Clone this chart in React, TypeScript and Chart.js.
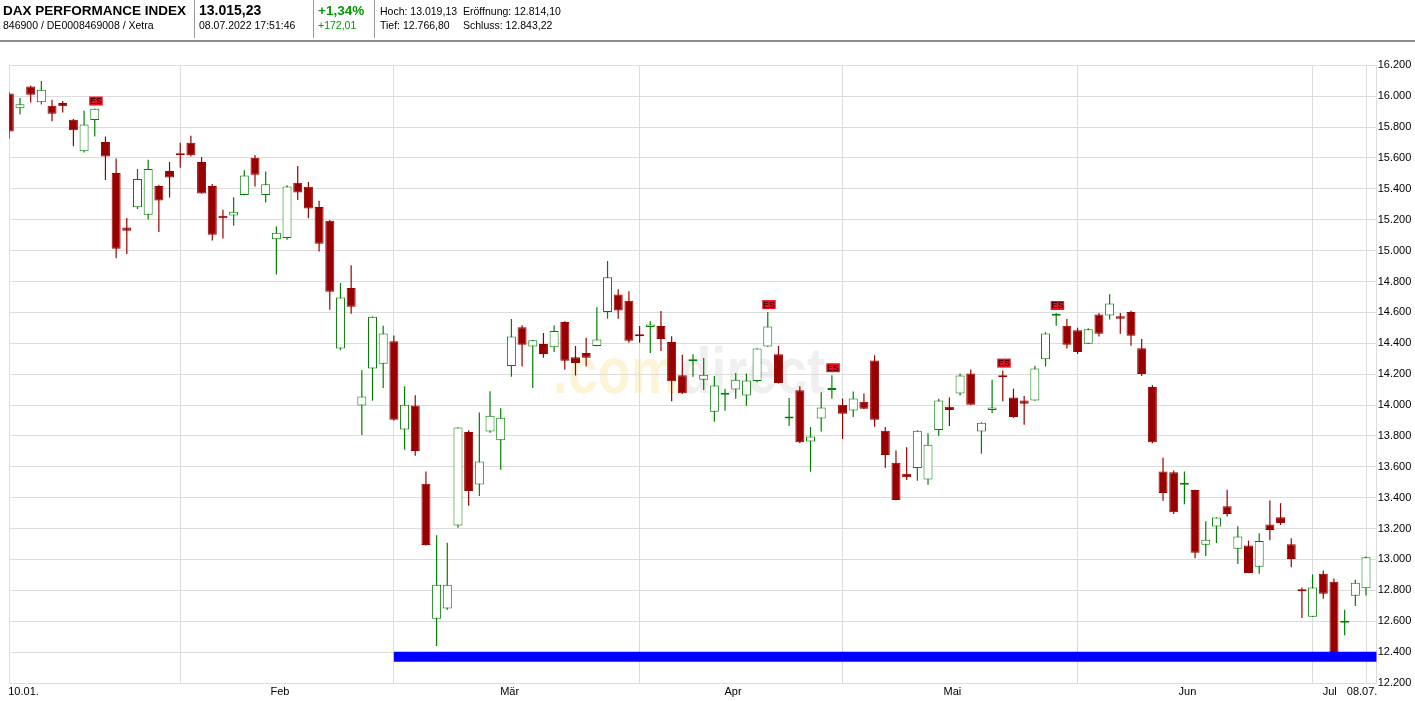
import React, { useEffect, useRef } from "react";
import { Chart, registerables } from "chart.js";

Chart.register(...registerables);

// ---------- data ----------
const dates: string[] = [
  "10.01.", "11.01.", "12.01.", "13.01.", "14.01.", "17.01.", "18.01.", "19.01.", "20.01.", "21.01.",
  "24.01.", "25.01.", "26.01.", "27.01.", "28.01.", "31.01.",
  "01.02.", "02.02.", "03.02.", "04.02.", "07.02.", "08.02.", "09.02.", "10.02.", "11.02.",
  "14.02.", "15.02.", "16.02.", "17.02.", "18.02.", "21.02.", "22.02.", "23.02.", "24.02.", "25.02.", "28.02.",
  "01.03.", "02.03.", "03.03.", "04.03.", "07.03.", "08.03.", "09.03.", "10.03.", "11.03.",
  "14.03.", "15.03.", "16.03.", "17.03.", "18.03.", "21.03.", "22.03.", "23.03.", "24.03.", "25.03.",
  "28.03.", "29.03.", "30.03.", "31.03.",
  "01.04.", "04.04.", "05.04.", "06.04.", "07.04.", "08.04.", "11.04.", "12.04.", "13.04.", "14.04.",
  "19.04.", "20.04.", "21.04.", "22.04.", "25.04.", "26.04.", "27.04.", "28.04.", "29.04.",
  "02.05.", "03.05.", "04.05.", "05.05.", "06.05.", "09.05.", "10.05.", "11.05.", "12.05.", "13.05.",
  "16.05.", "17.05.", "18.05.", "19.05.", "20.05.", "23.05.", "24.05.", "25.05.", "26.05.", "27.05.",
  "30.05.", "31.05.",
  "01.06.", "02.06.", "03.06.", "06.06.", "07.06.", "08.06.", "09.06.", "10.06.",
  "13.06.", "14.06.", "15.06.", "16.06.", "17.06.", "20.06.", "21.06.", "22.06.", "23.06.", "24.06.",
  "27.06.", "28.06.", "29.06.", "30.06.",
  "01.07.", "04.07.", "05.07.", "06.07.", "07.07.", "08.07.",
];

const openV: number[] = [
  16017, 15922, 16062, 15961, 15938, 15956, 15847, 15643, 15845, 15704,
  15503, 15150, 15280, 15232, 15418, 15516,
  15627, 15699, 15574, 15418, 15225, 15227, 15360, 15601, 15360,
  15073, 15081, 15439, 15413, 15283, 15193, 14366, 14758, 13997, 14236, 14268,
  14413, 13841, 13997, 13491, 12616, 12682, 13220, 13825, 13486,
  13828, 13772, 14252, 14503, 14379, 14395, 14374, 14538, 14310, 14337,
  14382, 14602, 14716, 14676,
  14448, 14506, 14511, 14408, 14193, 14283, 14164, 13957, 14066, 14101,
  14061, 14156, 14379, 14329, 13912, 14095, 13764, 13912, 14098,
  14002, 13965, 14021, 14289, 13833, 13626, 13555, 13592, 13517, 13838,
  13989, 14074, 14204, 13828, 13968, 14185, 14048, 14029, 14029, 14297,
  14578, 14514,
  14485, 14397, 14586, 14580, 14575, 14602, 14368, 14116,
  13570, 13565, 13483, 13449, 13096, 13213, 13345, 13069, 13091, 12953,
  13226, 13274, 13099, 12799,
  12629, 12908, 12855, 12590, 12765, 12814,
];

const highV: number[] = [
  16025, 15988, 16067, 16099, 15977, 15969, 15853, 15906, 15920, 15739,
  15596, 15211, 15529, 15588, 15426, 15574,
  15699, 15744, 15606, 15431, 15264, 15346, 15521, 15619, 15513,
  15156, 15423, 15548, 15445, 15323, 15198, 14790, 14906, 14225, 14575, 14514,
  14450, 14122, 14063, 13570, 13157, 13109, 13856, 13836, 13952,
  14090, 13979, 14557, 14517, 14421, 14466, 14517, 14543, 14382, 14435,
  14633, 14933, 14750, 14737,
  14511, 14543, 14609, 14445, 14326, 14329, 14305, 14188, 14106, 14207,
  14204, 14368, 14602, 14382, 14045, 14122, 13857, 14082, 14193,
  14042, 14087, 14074, 14323, 13857, 13706, 13727, 13836, 13817, 14040,
  14048, 14204, 14230, 13888, 14164, 14223, 14106, 14058, 14254, 14472,
  14596, 14557,
  14501, 14498, 14596, 14718, 14596, 14610, 14427, 14130,
  13658, 13576, 13570, 13452, 13247, 13273, 13451, 13215, 13122, 13170,
  13382, 13364, 13138, 12818,
  12902, 12929, 12876, 12674, 12868, 13019,
];

const lowV: number[] = [
  15726, 15882, 15959, 15946, 15837, 15895, 15675, 15635, 15739, 15458,
  14951, 14978, 15270, 15201, 15121, 15344,
  15537, 15609, 15370, 15065, 15079, 15161, 15358, 15415, 15312,
  14845, 15071, 15328, 15209, 14994, 14617, 14355, 14591, 13806, 14027, 14111,
  13900, 13711, 13671, 13090, 12439, 12674, 13205, 13348, 13411,
  13820, 13581, 14183, 14249, 14111, 14307, 14344, 14228, 14191, 14249,
  14380, 14559, 14559, 14403,
  14403, 14337, 14350, 14024, 14071, 14183, 14098, 13891, 13963, 14040,
  13995, 14148, 14378, 14140, 13865, 13753, 13568, 13828, 14040,
  13780, 13923, 13974, 13859, 13594, 13383, 13515, 13509, 13483, 13801,
  13865, 14061, 14000, 13684, 13949, 14024, 13918, 13873, 14027, 14249,
  14514, 14366,
  14331, 14395, 14443, 14554, 14461, 14384, 14188, 13753,
  13380, 13295, 13358, 13008, 13022, 13107, 13279, 12971, 12911, 12908,
  13125, 13223, 12950, 12621,
  12627, 12746, 12390, 12510, 12698, 12767,
];

const closeV: number[] = [
  15771, 15948, 16009, 16041, 15887, 15935, 15779, 15816, 15919, 15609,
  15012, 15129, 15463, 15529, 15325, 15474,
  15617, 15617, 15370, 15103, 15209, 15251, 15487, 15492, 15429,
  15116, 15415, 15376, 15272, 15044, 14734, 14697, 14636, 14056, 14572, 14464,
  13904, 14002, 13703, 13093, 12836, 12836, 13854, 13443, 13634,
  13931, 13918, 14443, 14390, 14419, 14331, 14480, 14286, 14273, 14307,
  14424, 14827, 14612, 14416,
  14445, 14522, 14427, 14154, 14077, 14289, 14196, 14127, 14079, 14164,
  14159, 14366, 14509, 14143, 13926, 13759, 13796, 13984, 14103,
  13944, 14042, 13976, 13904, 13676, 13385, 13533, 13833, 13743, 14029,
  13968, 14191, 14002, 13886, 13984, 14180, 13923, 14008, 14236, 14464,
  14583, 14390,
  14344, 14490, 14461, 14657, 14559, 14448, 14201, 13759,
  13430, 13305, 13488, 13043, 13128, 13271, 13295, 13149, 12913, 13120,
  13191, 13236, 13003, 12794,
  12818, 12778, 12401, 12595, 12849, 13015,
];

const esDates: string[] = ["20.01.", "21.04.", "29.04.", "23.05.", "30.05."];
const monthLabels: string[] = ["Jan", "Feb", "Mär", "Apr", "Mai", "Jun", "Jul"];
const yMin = 12200;
const yMax = 16200;
const yStep = 200;
const supportLevel = 12370;
const supportFrom = "01.03.";

const header = {
  name: "DAX PERFORMANCE INDEX",
  ids: "846900 / DE0008469008 / Xetra",
  price: "13.015,23",
  time: "08.07.2022 17:51:46",
  pct: "+1,34%",
  abs: "+172,01",
  high: "Hoch: 13.019,13",
  open: "Eröffnung: 12.814,10",
  low: "Tief: 12.766,80",
  close: "Schluss: 12.843,22",
};

// ---------- styles ----------
const FONT = '"Liberation Sans", Arial, sans-serif';
const UP = "#008000";
const DOWN = "#990000";
const GRID = "#dcdcdc";

const fmtDE = (v: number) => {
  const s = String(Math.round(v));
  return s.replace(/\B(?=(\d{3})+(?!\d))/g, ".");
};

export default function App() {
  const ref = useRef<HTMLCanvasElement | null>(null);

  useEffect(() => {
    const canvas = ref.current;
    if (!canvas) return;
    const n = dates.length;
    const up = dates.map((_, i) => closeV[i] >= openV[i]);

    // gridline positions: month starts + last day
    const gridPos: number[] = [];
    dates.forEach((d, i) => {
      if (i === 0 || d.slice(3, 5) !== dates[i - 1].slice(3, 5)) gridPos.push(i);
    });
    gridPos.push(n - 1);
    const xTicks: any[] = gridPos.map((v) => ({ value: v, grid: true, txt: "" }));
    xTicks.push({ value: -0.1, grid: false, txt: dates[0] });
    for (let k = 1; k < gridPos.length - 1; k++) {
      const m = parseInt(dates[gridPos[k]].slice(3, 5), 10) - 1;
      xTicks.push({ value: (gridPos[k] + gridPos[k + 1]) / 2 - 1.55, grid: false, txt: monthLabels[m] });
    }
    xTicks.push({ value: n - 2.8, grid: false, txt: dates[n - 1] });

    const watermark = {
      id: "watermark",
      beforeDraw(chart: any) {
        const ctx = chart.ctx;
        ctx.save();
        ctx.font = `bold 64px ${FONT}`;
        ctx.textBaseline = "alphabetic";
        ctx.textAlign = "left";
        ctx.translate(553, 393);
        ctx.scale(0.84, 1);
        ctx.fillStyle = "#fdf4d6";
        ctx.fillText(".com", 0, 0);
        const w = ctx.measureText(".com").width;
        ctx.fillStyle = "#efefef";
        ctx.fillText("direct", w, 0);
        ctx.restore();
      },
    };

    const esMarkers = {
      id: "esMarkers",
      afterDatasetsDraw(chart: any) {
        const ctx = chart.ctx;
        const xs = chart.scales.x;
        const ys = chart.scales.y;
        ctx.save();
        esDates.forEach((d) => {
          const i = dates.indexOf(d);
          if (i < 0) return;
          const cx = xs.getPixelForValue(i) + 1.2;
          const top = ys.getPixelForValue(highV[i]) - 12;
          ctx.fillStyle = "#ee1122";
          ctx.fillRect(cx - 6.75, top, 13.5, 9);
          ctx.fillStyle = "#000";
          ctx.font = `9px ${FONT}`;
          ctx.textAlign = "center";
          ctx.textBaseline = "middle";
          ctx.fillText("ES", cx, top + 5);
        });
        ctx.restore();
      },
    };

    const chart = new Chart(canvas, {
      type: "bar",
      data: {
        datasets: [
          {
            type: "line",
            label: "Unterstützung",
            data: [
              { x: dates.indexOf(supportFrom), y: supportLevel },
              { x: n, y: supportLevel },
            ],
            borderColor: "#0000ff",
            borderWidth: 10,
            borderCapStyle: "butt",
            pointRadius: 0,
            order: 0,
          } as any,
          {
            label: "Kerze",
            data: dates.map((_, i) => ({ x: i, y: [openV[i], closeV[i]] })),
            backgroundColor: up.map((u) => (u ? "#ffffff" : DOWN)),
            borderColor: up.map((u) => (u ? UP : DOWN)),
            borderWidth: 1,
            borderSkipped: false,
            barThickness: 9,
            minBarLength: 2,
            grouped: false,
            inflateAmount: 0,
            order: 1,
          } as any,
          {
            label: "Docht",
            data: dates.map((_, i) => ({ x: i, y: [lowV[i], highV[i]] })),
            backgroundColor: up.map((u) => (u ? UP : DOWN)),
            borderWidth: 0,
            barThickness: 1.2,
            grouped: false,
            inflateAmount: 0,
            order: 2,
          } as any,
        ],
      },
      options: {
        animation: false,
        responsive: false,
        devicePixelRatio: 1,
        layout: { padding: { left: 9.3, top: 65.3, right: 0, bottom: 0 } },
        plugins: { legend: { display: false }, tooltip: { enabled: false } },
        scales: {
          x: {
            type: "linear",
            min: 0,
            max: n,
            offset: false,
            position: "bottom",
            afterBuildTicks: (s: any) => {
              s.ticks = xTicks.map((t) => ({ ...t }));
            },
            afterFit: (s: any) => {
              s.height = 18;
            },
            grid: {
              offset: false,
              drawTicks: false,
              color: (c: any) => (c.tick && c.tick.grid ? GRID : "rgba(0,0,0,0)"),
            },
            border: { display: true, color: GRID },
            ticks: {
              autoSkip: false,
              maxRotation: 0,
              minRotation: 0,
              align: "start",
              padding: 2,
              color: "#000",
              font: { family: FONT, size: 11 },
              callback: (_v: any, i: number, ticks: any[]) => ticks[i].txt ?? "",
            },
          } as any,
          y: {
            position: "right",
            min: yMin,
            max: yMax,
            afterFit: (s: any) => {
              s.width = 38.3;
            },
            grid: { color: GRID, drawTicks: false },
            border: { display: true, color: GRID },
            ticks: {
              stepSize: yStep,
              padding: 1,
              color: "#000",
              font: { family: FONT, size: 11 },
              callback: (v: any) => fmtDE(Number(v)),
            },
          } as any,
        },
      } as any,
      plugins: [watermark, esMarkers],
    });
    return () => chart.destroy();
  }, []);

  const small: React.CSSProperties = { position: "absolute", fontSize: "10.5px", lineHeight: "10.5px", whiteSpace: "nowrap" };
  const big: React.CSSProperties = { position: "absolute", fontSize: "13.5px", lineHeight: "13.5px", fontWeight: "bold", whiteSpace: "nowrap" };
  const sep: React.CSSProperties = { position: "absolute", top: 0, width: 1, height: 38, background: "#999" };

  return (
    <div style={{ position: "absolute", left: 0, top: 0, width: 1415, height: 701, background: "#fff", fontFamily: FONT, color: "#000", overflow: "hidden" }}>
      <canvas ref={ref} width={1415} height={701} style={{ position: "absolute", left: 0, top: 0, width: 1415, height: 701 }} />
      <div style={{ ...big, left: 3, top: 3.6 }}>{header.name}</div>
      <div style={{ ...small, left: 3, top: 20.4 }}>{header.ids}</div>
      <div style={{ ...sep, left: 194 }} />
      <div style={{ ...big, left: 199, top: 3.2, fontSize: "14px", lineHeight: "14px" }}>{header.price}</div>
      <div style={{ ...small, left: 199, top: 20.4 }}>{header.time}</div>
      <div style={{ ...sep, left: 313 }} />
      <div style={{ ...big, left: 318, top: 3.6, color: "#009900" }}>{header.pct}</div>
      <div style={{ ...small, left: 318, top: 20.4, color: "#009900" }}>{header.abs}</div>
      <div style={{ ...sep, left: 374 }} />
      <div style={{ ...small, left: 380, top: 6.1 }}>{header.high}</div>
      <div style={{ ...small, left: 463, top: 6.1 }}>{header.open}</div>
      <div style={{ ...small, left: 380, top: 20.4 }}>{header.low}</div>
      <div style={{ ...small, left: 463, top: 20.4 }}>{header.close}</div>
      <div style={{ position: "absolute", left: 0, top: 40, width: 1415, height: 2, background: "#8c8c8c" }} />
    </div>
  );
}
